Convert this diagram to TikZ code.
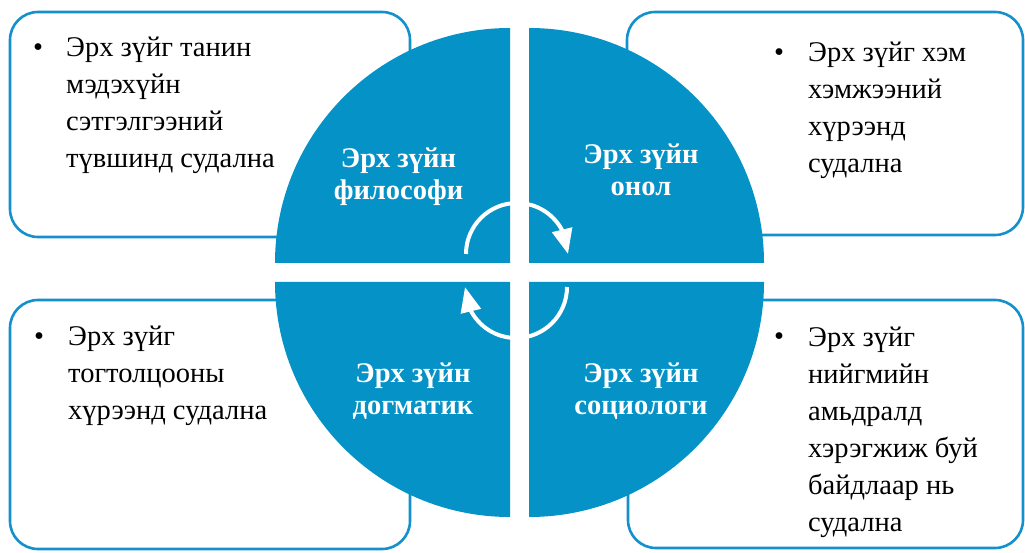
\documentclass[tikz,border=0pt]{standalone}
\usepackage{fontspec}
\setmainfont{LiberationSerif}[Extension=.ttf, UprightFont=*-Regular, BoldFont=*-Bold]
\usepackage{xcolor}
\usetikzlibrary{arrows.meta, bending}
\usetikzlibrary{math}

\definecolor{lawblue}{RGB}{4,146,199}
\definecolor{lineblue}{RGB}{20,144,204}

\begin{document}
\begin{tikzpicture}[x=1pt,y=1pt,
  infobox/.style={draw=lineblue, line width=2.6pt, rounded corners=28pt},
  quarter/.style={fill=lawblue},
  qlabel/.style={anchor=base, align=center, inner sep=0pt, text=white,
    font=\bfseries\fontsize{28.5}{32}\selectfont},
  itemtext/.style={anchor=base west, align=left, inner sep=0pt,
    font=\fontsize{28.5}{37}\selectfont},
  bulletmark/.style={anchor=base, inner sep=0pt, font=\fontsize{28.5}{37}\selectfont},
  turnarrow/.style={draw=white, line width=4pt, -{Triangle[length=25pt,width=20pt]}}
]
\tikzmath{
\cx=519.5;
\cy=279.5;
\gap=9.5;
\qr=235;
}
\useasboundingbox (0,0) rectangle (1025,552);

% boxes behind the circle
\draw[infobox] (10,315) rectangle (410,540);
\draw[infobox] (627,317) rectangle (1023,540);
\draw[infobox] (10,3) rectangle (410,252);
\draw[infobox] (628,4) rectangle (1023,252);

% four quarters
\fill[quarter] (\cx-\gap,\cy+\gap) -- ++(-\qr,0) arc[start angle=180, end angle=90, radius=\qr] -- cycle;
\fill[quarter] (\cx+\gap,\cy+\gap) -- ++(\qr,0) arc[start angle=0, end angle=90, radius=\qr] -- cycle;
\fill[quarter] (\cx-\gap,\cy-\gap) -- ++(-\qr,0) arc[start angle=180, end angle=270, radius=\qr] -- cycle;
\fill[quarter] (\cx+\gap,\cy-\gap) -- ++(\qr,0) arc[start angle=0, end angle=-90, radius=\qr] -- cycle;

% labels (base = last line)
\node[qlabel] (philo) at (398.5,352) {Эрх зүйн\\философи};
\node[qlabel] (theory) at (641,356) {Эрх зүйн\\онол};
\node[qlabel] (dogma) at (413,138) {Эрх зүйн\\догматик};
\node[qlabel] (socio) at (641,138) {Эрх зүйн\\социологи};

% cycle arrows
\draw[turnarrow] (466,298) arc[start angle=180, end angle=0, radius=51];
\draw[turnarrow] (567,265) arc[start angle=0, end angle=-180, radius=51];

% box texts
\node[bulletmark] (b1) at (38,495) {•};
\node[itemtext] (t1) at (66,384) {Эрх зүйг танин\\мэдэхүйн\\сэтгэлгээний\\түвшинд судална};
\node[bulletmark] (b2) at (779,490) {•};
\node[itemtext] (t2) at (808,379) {Эрх зүйг хэм\\хэмжээний\\хүрээнд\\судална};
\node[bulletmark] (b3) at (39,207) {•};
\node[itemtext] (t3) at (68,133) {Эрх зүйг\\тогтолцооны\\хүрээнд судална};
\node[bulletmark] (b4) at (779,206) {•};
\node[itemtext] (t4) at (808,21) {Эрх зүйг\\нийгмийн\\амьдралд\\хэрэгжиж буй\\байдлаар нь\\судална};

\end{tikzpicture}
\end{document}
